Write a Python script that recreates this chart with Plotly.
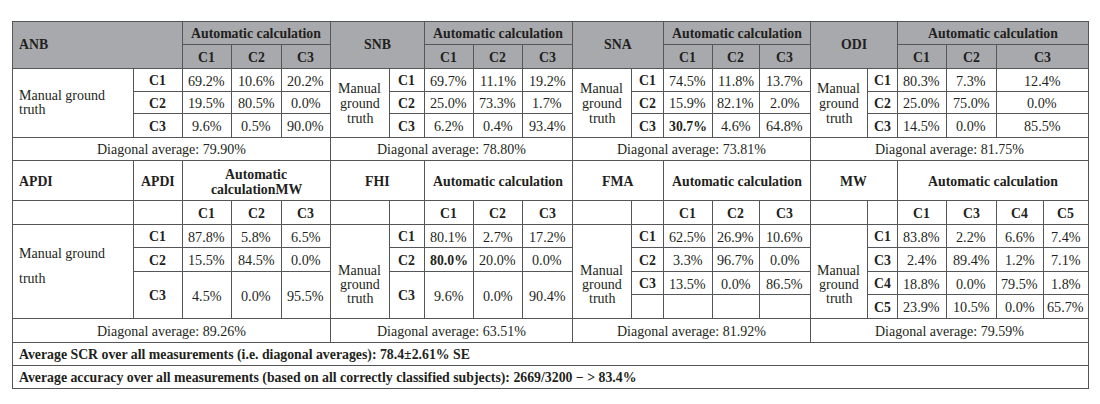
import plotly.graph_objects as go

# ---------------- data ----------------
top_measures = ["ANB", "SNB", "SNA", "ODI"]
bottom_measures = ["APDI", "FHI", "FMA", "MW"]
classes3 = ["C1", "C2", "C3"]
classes_mw = ["C1", "C3", "C4", "C5"]

anb = [[69.2, 10.6, 20.2], [19.5, 80.5, 0.0], [9.6, 0.5, 90.0]]
snb = [[69.7, 11.1, 19.2], [25.0, 73.3, 1.7], [6.2, 0.4, 93.4]]
sna = [[74.5, 11.8, 13.7], [15.9, 82.1, 2.0], [30.7, 4.6, 64.8]]
odi = [[80.3, 7.3, 12.4], [25.0, 75.0, 0.0], [14.5, 0.0, 85.5]]
apdi = [[87.8, 5.8, 6.5], [15.5, 84.5, 0.0], [4.5, 0.0, 95.5]]
fhi = [[80.1, 2.7, 17.2], [80.0, 20.0, 0.0], [9.6, 0.0, 90.4]]
fma = [[62.5, 26.9, 10.6], [3.3, 96.7, 0.0], [13.5, 0.0, 86.5]]
mw = [[83.8, 2.2, 6.6, 7.4], [2.4, 89.4, 1.2, 7.1], [18.8, 0.0, 79.5, 1.8], [23.9, 10.5, 0.0, 65.7]]

diag_top = [79.90, 78.80, 73.81, 81.75]
diag_bottom = [89.26, 63.51, 81.92, 79.59]

bold_cells = [("SNA", 2, 0), ("FHI", 1, 0)]

scr_mean = 78.4
scr_se = 2.61
n_correct = 2669
n_total = 3200
overall_acc = 83.4

# ---------------- layout constants (pixels) ----------------
FONT = "Liberation Serif, Times New Roman, serif"
FS_VAL = 14.2     # cell values
FS_TXT = 14.0     # regular prose text
FS_HEAD = 13.8    # bold headers
TXT = "#231f20"
GRAY = "#a7a9ac"
LINE = "#555658"
L, R = 12, 1088
PAGE_OFF = 8      # default body margin of the html page

X_TOP = [[12, 133, 182, 231, 281, 330],
         [330, 389, 424, 473, 522, 572],
         [572, 631, 663, 712, 759, 810],
         [810, 867, 897, 946, 996, 1088]]
X_BOT = [[12, 133, 182, 231, 281, 330],
         [330, 389, 424, 473, 522, 572],
         [572, 631, 663, 712, 759, 810],
         [810, 867, 897, 946, 996, 1043, 1088]]
Y_TOP = [21, 44, 68, 91, 113, 137, 160]
Y_BOT = [160, 200, 224, 247, 271, 294, 318, 342, 365, 388]

shapes = []
annotations = []


def hline(y, x0, x1):
    shapes.append(dict(type="line", xref="x", yref="y", x0=x0, x1=x1 + 1, y0=y + 0.5, y1=y + 0.5,
                       line=dict(color=LINE, width=1)))


def vline(x, y0, y1):
    shapes.append(dict(type="line", xref="x", yref="y", x0=x + 0.5, x1=x + 0.5, y0=y0, y1=y1 + 1,
                       line=dict(color=LINE, width=1)))


def text(t, x, y, bold=False, align="center", size=FS_VAL):
    if bold:
        t = "<b>" + t + "</b>"
    annotations.append(dict(text=t, x=x, y=y, xref="x", yref="y", showarrow=False,
                            xanchor=align, yanchor="middle", align=align, borderpad=0,
                            font=dict(family=FONT, size=size, color=TXT)))


# gray header background for top block
shapes.append(dict(type="rect", xref="x", yref="y", x0=L, x1=R, y0=Y_TOP[0], y1=Y_TOP[2],
                   fillcolor=GRAY, line=dict(width=0), layer="below"))

# ---------------- top block ----------------
top_data = [anb, snb, sna, odi]
for b, name in enumerate(top_measures):
    xs = X_TOP[b]
    x0, xl, xr, xend = xs[0], xs[1], xs[2], xs[-1]
    if b == 0:
        text(name, x0 + 6, (Y_TOP[0] + Y_TOP[2]) / 2, bold=True, align="left", size=FS_HEAD)
    else:
        text(name, (x0 + xr) / 2, (Y_TOP[0] + Y_TOP[2]) / 2, bold=True, size=FS_HEAD)
    text("Automatic calculation", (xr + xend) / 2, (Y_TOP[0] + Y_TOP[1]) / 2 + 1, bold=True, size=FS_HEAD)
    hline(Y_TOP[1], xr, xend)
    for j, c in enumerate(classes3):
        text(c, (xs[2 + j] + xs[3 + j]) / 2, (Y_TOP[1] + Y_TOP[2]) / 2 + 1, bold=True, size=FS_HEAD)
    vline(xr, Y_TOP[0], Y_TOP[5])
    vline(xl, Y_TOP[2], Y_TOP[5])
    for k in (3, 4):
        vline(xs[k], Y_TOP[1], Y_TOP[5])
    for k in (3, 4):
        hline(Y_TOP[k], xl, xend)
    vline(xend, Y_TOP[0], Y_TOP[6])
    if b == 0:
        text("Manual ground", x0 + 6, 95, align="left", size=FS_TXT)
        text("truth", x0 + 6, 109, align="left", size=FS_TXT)
    else:
        for k, w in enumerate(["Manual", "ground", "truth"]):
            text(w, (x0 + xl) / 2, 88 + 15 * k, size=FS_TXT)
    vals = top_data[b]
    for i, rc in enumerate(classes3):
        yc = (Y_TOP[2 + i] + Y_TOP[3 + i]) / 2 + 1
        text(rc, (xl + xr) / 2, yc, bold=True, size=FS_HEAD)
        for j in range(3):
            isb = (name, i, j) in bold_cells
            text(f"{vals[i][j]:.1f}%", (xs[2 + j] + xs[3 + j]) / 2, yc, bold=isb,
                 size=FS_HEAD if isb else FS_VAL)
    text(f"Diagonal average: {diag_top[b]:.2f}%", (x0 + xend) / 2, (Y_TOP[5] + Y_TOP[6]) / 2 + 1,
         size=FS_TXT)

vline(L, Y_TOP[0], Y_BOT[-1])
vline(R, Y_TOP[0], Y_BOT[-1])
for y in (Y_TOP[0], Y_TOP[2], Y_TOP[5], Y_TOP[6]):
    hline(y, L, R)

# ---------------- bottom block ----------------
bottom_data = [apdi, fhi, fma, mw]
bottom_cols = [classes3, classes3, classes3, classes_mw]
row_spans = [
    [(224, 247), (247, 271), (271, 318)],
    [(224, 247), (247, 271), (271, 318)],
    [(224, 247), (247, 271), (271, 294)],
    [(224, 247), (247, 271), (271, 294), (294, 318)],
]
inner_h = [[247, 271], [247, 271], [247, 271, 294], [247, 271, 294]]
yh0, yh1, yh2, yd1 = Y_BOT[0], Y_BOT[1], Y_BOT[2], Y_BOT[6]

for b, name in enumerate(bottom_measures):
    xs = X_BOT[b]
    x0, xl, xr, xend = xs[0], xs[1], xs[2], xs[-1]
    ycols = bottom_cols[b]
    if b == 0:
        text(name, x0 + 6, (yh0 + yh1) / 2 + 1, bold=True, align="left", size=FS_HEAD)
        text(name, (xl + xr) / 2, (yh0 + yh1) / 2 + 1, bold=True, size=FS_HEAD)
        text("Automatic", (xr + xend) / 2, 174, bold=True, size=FS_HEAD)
        text("calculationMW", (xr + xend) / 2, 189, bold=True, size=FS_HEAD)
        vline(xl, yh0, yd1)
    else:
        text(name, (x0 + xr) / 2, (yh0 + yh1) / 2 + 1, bold=True, size=FS_HEAD)
        text("Automatic calculation", (xr + xend) / 2, (yh0 + yh1) / 2 + 1, bold=True, size=FS_HEAD)
        vline(xl, yh1, yd1)
    vline(xr, yh0, yd1)
    for k in range(3, len(xs) - 1):
        vline(xs[k], yh1, yd1)
    vline(xend, yh0, Y_BOT[7])
    for j, c in enumerate(ycols):
        text(c, (xs[2 + j] + xs[3 + j]) / 2, (yh1 + yh2) / 2 + 1, bold=True, size=FS_HEAD)
    for y in inner_h[b]:
        hline(y, xl, xend)
    if b == 0:
        text("Manual ground", x0 + 6, 253, align="left", size=FS_TXT)
        text("truth", x0 + 6, 278, align="left", size=FS_TXT)
    else:
        for k, w in enumerate(["Manual", "ground", "truth"]):
            text(w, (x0 + xl) / 2, 270 + 14 * k, size=FS_TXT)
    vals = bottom_data[b]
    for i, rc in enumerate(ycols):
        ya, yb = row_spans[b][i]
        yc = (ya + yb) / 2 + 1
        text(rc, (xl + xr) / 2, yc, bold=True, size=FS_HEAD)
        for j in range(len(ycols)):
            isb = (name, i, j) in bold_cells
            text(f"{vals[i][j]:.1f}%", (xs[2 + j] + xs[3 + j]) / 2, yc, bold=isb,
                 size=FS_HEAD if isb else FS_VAL)
    text(f"Diagonal average: {diag_bottom[b]:.2f}%", (x0 + xend) / 2, (Y_BOT[6] + Y_BOT[7]) / 2 + 1,
         size=FS_TXT)

for y in (Y_BOT[1], Y_BOT[2], Y_BOT[6], Y_BOT[7], Y_BOT[8], Y_BOT[9]):
    hline(y, L, R)

text(f"Average SCR over all measurements (i.e. diagonal averages): {scr_mean}\u00b1{scr_se}% SE",
     L + 6, (Y_BOT[7] + Y_BOT[8]) / 2 + 1, bold=True, align="left", size=FS_HEAD)
text(f"Average accuracy over all measurements (based on all correctly classified subjects): "
     f"{n_correct}/{n_total} \u2212 > {overall_acc}%",
     L + 6, (Y_BOT[8] + Y_BOT[9]) / 2 + 1, bold=True, align="left", size=FS_HEAD)

fig = go.Figure()
fig.add_trace(go.Scatter(x=[PAGE_OFF, 1100], y=[PAGE_OFF, 404], mode="markers",
                         marker=dict(opacity=0), hoverinfo="skip", showlegend=False))
fig.update_layout(
    width=1100, height=404,
    margin=dict(l=0, r=0, t=0, b=0),
    paper_bgcolor="white", plot_bgcolor="white",
    xaxis=dict(range=[PAGE_OFF, 1100 + PAGE_OFF], visible=False, fixedrange=True),
    yaxis=dict(range=[404 + PAGE_OFF, PAGE_OFF], visible=False, fixedrange=True),
    shapes=shapes,
    annotations=annotations,
    showlegend=False,
)
fig.write_html("out.html")
